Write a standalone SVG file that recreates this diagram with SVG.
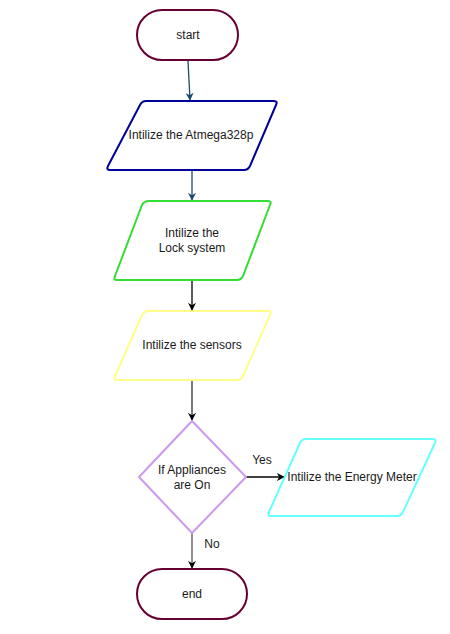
<svg xmlns="http://www.w3.org/2000/svg" width="450" height="634" viewBox="0 0 450 634">
<defs>
<style>
text{font-family:"Liberation Sans",Arial,sans-serif;font-size:12px;fill:#1a1a1a;text-anchor:middle}
.n{fill:#fff;stroke-width:2;stroke-linejoin:round}
.c{fill:none;stroke-width:1.3}
</style>
<marker id="ab" viewBox="0 0 10 10" refX="9" refY="5" markerWidth="8" markerHeight="8" orient="auto" markerUnits="userSpaceOnUse"><path d="M0,0 L10,5 L0,10 L3,5 Z" fill="#1c4a6e"/></marker>
<marker id="ak" viewBox="0 0 10 10" refX="9" refY="5" markerWidth="8" markerHeight="8" orient="auto" markerUnits="userSpaceOnUse"><path d="M0,0 L10,5 L0,10 L3,5 Z" fill="#000"/></marker>
</defs>
<rect width="450" height="634" fill="#fff"/>
<g id="connectors">
<path class="c" d="M188,61 L190,100" stroke="#1c4a6e" marker-end="url(#ab)"/>
<path class="c" d="M192,170 L192,200" stroke="#1c4a6e" marker-end="url(#ab)"/>
<path class="c" d="M192,280 L192,310" stroke="#000" marker-end="url(#ak)"/>
<path class="c" d="M192,380 L192,420" stroke="#333" marker-end="url(#ak)"/>
<path class="c" d="M246,477 L284,477" stroke="#000" marker-end="url(#ak)"/>
<path class="c" d="M192,533 L192,568" stroke="#555" marker-end="url(#ak)"/>
<text x="262" y="464">Yes</text>
<text x="212" y="548">No</text>
</g>
<g id="start">
<rect class="n" x="137" y="10" width="101" height="50" rx="25" stroke="#660033"/>
<text x="188" y="39">start</text>
</g>
<g id="init-atmega">
<path class="n" d="M146,101 L274,101 Q278,101 276,105 L250,166 Q248,170 244,170 L110,170 Q106,170 108,166 L140,105 Q142,101 146,101 Z" stroke="#000099"/>
<text x="191" y="139">Intilize the Atmega328p</text>
</g>
<g id="init-lock">
<path class="n" d="M149,201 L268,201 Q272,201 270,205 L243,276 Q241,280 237,280 L117,280 Q113,280 115,276 L142,205 Q144,201 149,201 Z" stroke="#33dd33"/>
<text x="192" y="237">Intilize the</text>
<text x="192" y="252">Lock system</text>
</g>
<g id="init-sensors">
<path class="n" d="M149,311 L268,311 Q272,311 270,315 L243,376 Q241,380 237,380 L117,380 Q113,380 115,376 L142,315 Q144,311 149,311 Z" stroke="#ffff88"/>
<text x="192" y="349">Intilize the sensors</text>
</g>
<g id="decision">
<path class="n" d="M192,421 L246,477 L192,533 L139,477 Z" stroke="#cc99ee"/>
<text x="192" y="474">If Appliances</text>
<text x="192" y="489">are On</text>
</g>
<g id="init-energy">
<path class="n" d="M306,439 L433,439 Q437,439 435,443 L403,512 Q401,516 397,516 L271,516 Q267,516 269,512 L300,443 Q302,439 306,439 Z" stroke="#66ffff"/>
<text x="352" y="481">Intilize the Energy Meter</text>
</g>
<g id="end">
<rect class="n" x="137" y="569" width="110" height="50" rx="25" stroke="#660033"/>
<text x="192" y="598">end</text>
</g>
</svg>
